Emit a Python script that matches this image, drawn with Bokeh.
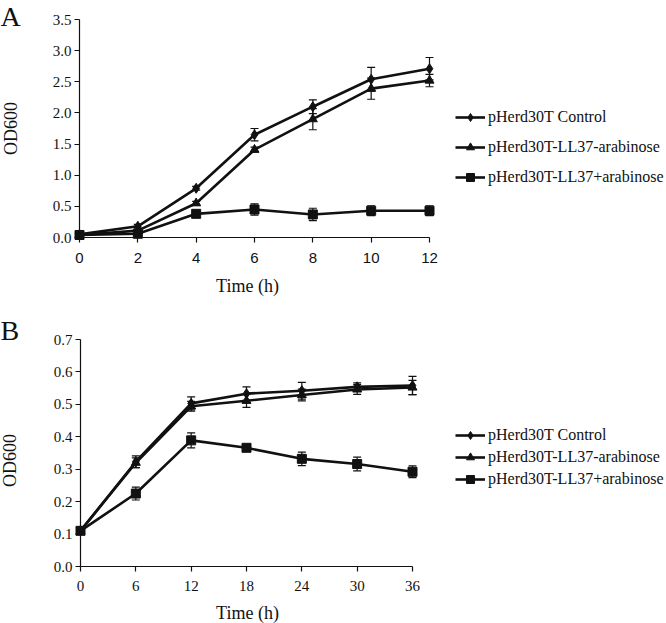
import math
from bokeh.plotting import figure
from bokeh.models import (Range1d, FixedTicker, Whisker, TeeHead, ColumnDataSource,
                          Legend, LegendItem, Label, NumeralTickFormatter)
from bokeh.layouts import column
from bokeh.embed import file_html
from bokeh.resources import INLINE

# ---------------- data ----------------
labels = ["pHerd30T Control", "pHerd30T-LL37-arabinose", "pHerd30T-LL37+arabinose"]

time_a = [0, 2, 4, 6, 8, 10, 12]
ctrl_a = [0.05, 0.18, 0.79, 1.65, 2.10, 2.54, 2.71]
ctrl_a_err = [0.02, 0.03, 0.03, 0.10, 0.11, 0.19, 0.18]
minus_a = [0.04, 0.11, 0.55, 1.41, 1.90, 2.39, 2.52]
minus_a_err = [0.02, 0.02, 0.03, 0.04, 0.17, 0.17, 0.10]
plus_a = [0.04, 0.06, 0.38, 0.45, 0.37, 0.43, 0.43]
plus_a_err = [0.02, 0.02, 0.03, 0.09, 0.10, 0.08, 0.08]
yticks_a = [0.0, 0.5, 1.0, 1.5, 2.0, 2.5, 3.0, 3.5]

time_b = [0, 6, 12, 18, 24, 30, 36]
ctrl_b = [0.110, 0.323, 0.503, 0.533, 0.542, 0.554, 0.558]
ctrl_b_err = [0.005, 0.018, 0.020, 0.021, 0.026, 0.012, 0.028]
minus_b = [0.110, 0.320, 0.494, 0.511, 0.529, 0.546, 0.552]
minus_b_err = [0.005, 0.015, 0.015, 0.020, 0.018, 0.015, 0.022]
plus_b = [0.110, 0.225, 0.389, 0.366, 0.332, 0.316, 0.292]
plus_b_err = [0.005, 0.020, 0.023, 0.010, 0.021, 0.021, 0.018]
yticks_b = [0.0, 0.1, 0.2, 0.3, 0.4, 0.5, 0.6, 0.7]

SERIF = "Liberation Serif"
SANS = "Liberation Sans"
INK = "#111111"
ROW_H = 20


def make_panel(t, series, errs, yticks, letter, width, height,
               axis_left, axis_len_x, axis_top, axis_len_y,
               xtick_font, xtick_standoff, leg_glyph_x, leg_top, leg_spacing,
               letter_pos, od_pos, time_pos):
    xmax = t[-1]
    ymax = yticks[-1]
    ppx = axis_len_x / xmax          # pixels per data unit (x)
    ppy = axis_len_y / ymax          # pixels per data unit (y)
    axis_bottom = axis_top + axis_len_y
    # the frame covers the whole canvas; axes sit at fixed data locations
    p = figure(width=width, height=height,
               x_range=Range1d(-axis_left / ppx, (width - axis_left) / ppx),
               y_range=Range1d(-(height - axis_bottom) / ppy, ymax + axis_top / ppy),
               output_backend="svg", toolbar_location=None,
               min_border_left=0, min_border_right=0, min_border_top=0,
               min_border_bottom=0)
    p.outline_line_color = None
    p.grid.visible = False
    p.background_fill_color = "white"
    p.border_fill_color = "white"

    markers = ["diamond", "triangle", "square"]
    msizes = [10, 9, 9]
    items = []
    for vals, err, mk, ms, lab in zip(series, errs, markers, msizes, labels):
        src = ColumnDataSource(dict(x=t, y=vals,
                                    up=[v + e for v, e in zip(vals, err)],
                                    lo=[v - e for v, e in zip(vals, err)]))
        w = Whisker(source=src, base="x", upper="up", lower="lo",
                    line_color=INK, line_width=1.2,
                    upper_head=TeeHead(size=8, line_color=INK, line_width=1.2),
                    lower_head=TeeHead(size=8, line_color=INK, line_width=1.2))
        p.add_layout(w)
        lr = p.line("x", "y", source=src, line_color=INK, line_width=2.6)
        sr = p.scatter("x", "y", source=src, marker=mk, size=ms,
                       fill_color=INK, line_color=INK)
        items.append(LegendItem(label=lab, renderers=[lr, sr]))

    n = len(items)
    leg_h = n * ROW_H + (n - 1) * leg_spacing
    leg = Legend(items=items,
                 location=(leg_glyph_x, height - (leg_top + leg_h)),
                 padding=0, margin=0,
                 spacing=leg_spacing, glyph_width=30, glyph_height=ROW_H,
                 label_height=ROW_H, label_standoff=3,
                 label_text_font=SERIF, label_text_font_size="16px",
                 label_text_color=INK, border_line_alpha=0,
                 background_fill_alpha=0)
    p.add_layout(leg)

    for ax in (p.xaxis, p.yaxis):
        ax.axis_line_color = INK
        ax.axis_line_width = 1.2
        ax.major_tick_line_color = INK
        ax.major_tick_line_width = 1.2
        ax.major_tick_out = 5
        ax.major_tick_in = 0
        ax.minor_tick_line_color = None
        ax.major_label_text_color = INK

    p.xaxis.ticker = FixedTicker(ticks=t)
    p.xaxis.bounds = (0, xmax)
    p.xaxis.fixed_location = 0
    p.xaxis.major_label_text_font = xtick_font
    p.xaxis.major_label_text_font_size = "15px"
    p.xaxis.major_label_standoff = xtick_standoff
    p.yaxis.ticker = FixedTicker(ticks=yticks)
    p.yaxis.bounds = (0, ymax)
    p.yaxis.fixed_location = 0
    p.yaxis.formatter = NumeralTickFormatter(format="0.0")
    p.yaxis.major_label_text_font = SERIF
    p.yaxis.major_label_text_font_size = "15px"
    p.yaxis.major_label_standoff = 3

    # panel letter, y title, x title in canvas pixels
    p.add_layout(Label(x=letter_pos[0], y=letter_pos[1], x_units="canvas",
                       y_units="canvas", text=letter,
                       text_font=SERIF, text_font_size="28px",
                       text_color=INK, text_align="left",
                       text_baseline="top"))
    p.add_layout(Label(x=od_pos[0], y=od_pos[1], x_units="canvas",
                       y_units="canvas", text="OD600", angle=math.pi / 2,
                       text_font=SERIF, text_font_size="18px", text_color=INK,
                       text_align="center", text_baseline="middle"))
    p.add_layout(Label(x=time_pos[0], y=time_pos[1], x_units="canvas",
                       y_units="canvas", text="Time (h)", text_font=SERIF,
                       text_font_size="18px", text_color=INK,
                       text_align="center", text_baseline="middle"))
    return p


pA = make_panel(time_a, [ctrl_a, minus_a, plus_a],
                [ctrl_a_err, minus_a_err, plus_a_err], yticks_a, "A",
                666, 308, 79, 350, 19, 218, SANS, 10, 455, 107, 10,
                (0, 0), (10, 128), (247, 285))
pB = make_panel(time_b, [ctrl_b, minus_b, plus_b],
                [ctrl_b_err, minus_b_err, plus_b_err], yticks_b, "B",
                666, 315, 80, 332, 31, 227, SERIF, 9, 455, 117, 2,
                (0, 6), (9, 152), (247, 304))

layout = column(pA, pB, spacing=0)
open("out.html", "w").write(file_html(layout, INLINE))
